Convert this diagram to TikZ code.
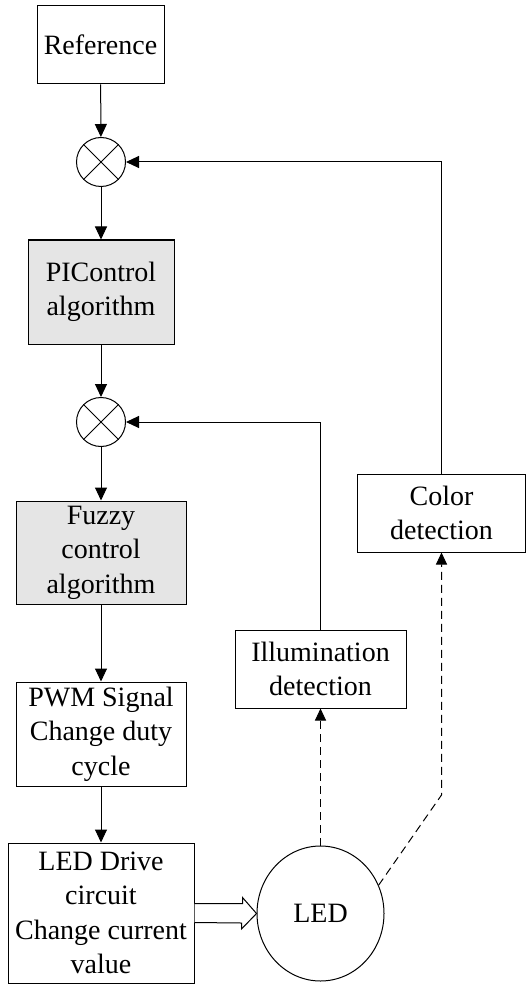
\documentclass[tikz,border=0pt]{standalone}
\usepackage{fontspec}
\setmainfont{Liberation Serif}
\usetikzlibrary{positioning,calc,arrows.meta,shapes.geometric}

\tikzset{
	block/.style={draw, line width=1pt, align=center, inner sep=0pt, font=\fontsize{28}{34.5}\selectfont},
	shaded/.style={block, fill=gray!20},
	mixer/.style={draw, circle, line width=1pt, minimum size=49pt, inner sep=0pt},
	arr/.style={line width=1pt, -{Triangle[length=13pt, width=12pt]}},
	dasharr/.style={line width=1pt, dash pattern=on 8pt off 5pt, -{Triangle[length=12pt, width=11pt]}}
}

\begin{document}
\begin{tikzpicture}[x=1pt, y=-1pt]
	\useasboundingbox (0, 0) rectangle (526, 984);

	\node[block, minimum width=127pt, minimum height=78pt] (ref) at (100.5, 45) {Reference};
	\node[mixer] (sum1) at (101, 162) {};
	\node[shaded, minimum width=146pt, minimum height=104pt] (pi) at (101, 292) {PIControl\\algorithm};
	\node[mixer] (sum2) at (101, 422) {};
	\node[shaded, minimum width=170pt, minimum height=103pt] (fuzzy) at (101, 552.5) {Fuzzy\\control\\algorithm};
	\node[block, minimum width=170pt, minimum height=104pt] (pwm) at (101, 734) {PWM Signal\\Change duty\\cycle};
	\node[block, minimum width=186pt, minimum height=140pt] (drive) at (101, 913) {LED Drive\\circuit\\Change current\\value};
	\node[block, ellipse, minimum width=127pt, minimum height=135pt] (led) at (320.5, 913.5) {LED};
	\node[block, minimum width=171pt, minimum height=78pt] (illum) at (320.5, 669) {Illumination\\detection};
	\node[block, minimum width=168pt, minimum height=78pt] (color) at (441.5, 513) {Color\\detection};
	\coordinate (bend) at (441.5, 795);

	\draw[line width=0.8pt] (sum1.45) -- (sum1.225) (sum1.135) -- (sum1.315);
	\draw[line width=0.8pt] (sum2.45) -- (sum2.225) (sum2.135) -- (sum2.315);

	\draw[arr] (ref) -- (sum1);
	\draw[arr] (sum1) -- (pi);
	\draw[arr] (pi) -- (sum2);
	\draw[arr] (sum2) -- (fuzzy);
	\draw[arr] (fuzzy) -- (pwm);
	\draw[arr] (pwm) -- (drive);

	\draw[arr] (illum.north) |- (sum2.east);
	\draw[arr] (color.north) |- (sum1.east);

	\draw[dasharr] (led.north) -- (illum.south);
	\draw[dasharr] (led.26) -- (bend) -- (color.south);

	\draw[line width=1pt, fill=white] ($(drive.east)+(0,-9.5)$) -- ++(48, 0) -- ++(0, -6)
		-- (led.west) -- ++(-15, 15.5) -- ++(0, -6) -- ($(drive.east)+(0, 9.5)$);
\end{tikzpicture}
\end{document}
